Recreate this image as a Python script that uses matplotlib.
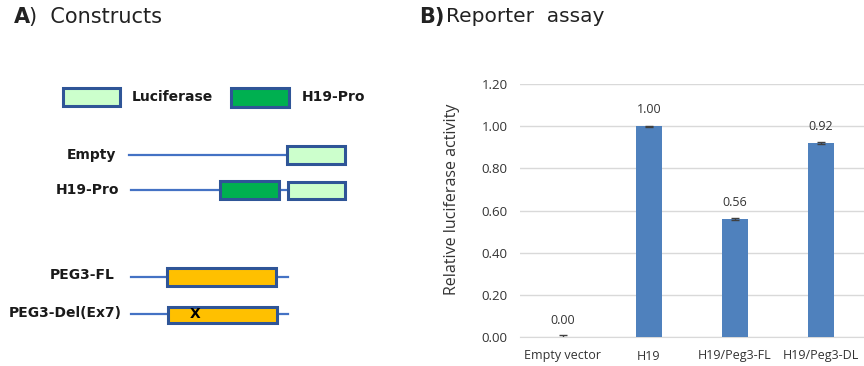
import matplotlib.pyplot as plt
from matplotlib.patches import Rectangle

# reporter assay data
groups = ['Empty vector', 'H19', 'H19/Peg3-FL', 'H19/Peg3-DL']
activity = [0.00, 1.00, 0.56, 0.92]
errors = [0.008, 0.003, 0.003, 0.003]
yticks = [0.0, 0.2, 0.4, 0.6, 0.8, 1.0, 1.2]

# construct diagram labels
construct_names = ['Empty', 'H19-Pro', 'PEG3-FL', 'PEG3-Del(Ex7)']
legend_names = ['Luciferase', 'H19-Pro']

luc_col = '#CCFFCC'
pro_col = '#00B050'
peg_col = '#FFC000'
edge_col = '#2F5597'
line_col = '#4472C4'
bar_col = '#4F81BD'

fig = plt.figure(figsize=(8.64, 3.66), dpi=100)

# ---- panel A, drawn in pixel coordinates ----
axa = fig.add_axes([0, 0, 1, 1])
axa.set_xlim(0, 864)
axa.set_ylim(366, 0)
axa.axis('off')

def box(x0, x1, y0, y1, fc):
    axa.add_patch(Rectangle((x0, y0), x1 - x0, y1 - y0, facecolor=fc,
                            edgecolor=edge_col, linewidth=2.2, zorder=3))

def line(x0, x1, y):
    axa.plot([x0, x1], [y, y], color=line_col, lw=1.6, zorder=2)

bold = dict(fontsize=10, fontweight='bold', color='#1a1a1a', va='center')

axa.text(14, 17, 'A', fontsize=15, fontweight='bold', va='center', color='#222222')
axa.text(29, 17, ')  Constructs', fontsize=15, va='center', color='#222222')
axa.text(419, 17, 'B)', fontsize=15, fontweight='bold', va='center', color='#222222')
axa.text(446, 17, 'Reporter  assay', fontsize=14.5, va='center', color='#222222')

# legend
box(63, 120, 88, 106, luc_col)
axa.text(132, 97, legend_names[0], ha='left', **bold)
box(231, 289, 88, 107, pro_col)
axa.text(302, 97, legend_names[1], ha='left', **bold)

# Empty
axa.text(116, 155, construct_names[0], ha='right', **bold)
line(129, 287, 155)
box(287, 345, 146, 164, luc_col)

# H19-Pro
axa.text(119, 190, construct_names[1], ha='right', **bold)
line(131, 288, 190)
box(220, 279, 181, 199, pro_col)
box(288, 345, 182, 199, luc_col)

# PEG3-FL
axa.text(115, 275, construct_names[2], ha='right', **bold)
line(131, 288, 277)
box(167, 276, 268, 286, peg_col)

# PEG3-Del(Ex7)
axa.text(122, 313, construct_names[3], ha='right', **bold)
line(131, 288, 314)
box(168, 277, 307, 323, peg_col)
axa.text(195, 314, 'X', ha='center', va='center', fontsize=10,
         fontweight='bold', color='black', zorder=4)

# ---- panel B ----
ax = fig.add_axes([520 / 864, 1 - 337 / 366, 344 / 864, 253 / 366])
x = range(len(groups))
ax.bar(x, activity, width=0.3, color=bar_col, zorder=3,
       yerr=errors, capsize=3, error_kw=dict(ecolor='#404040', elinewidth=1, capthick=1))
for xi, v in zip(x, activity):
    ax.annotate(f'{v:.2f}', (xi, v), xytext=(0, 7), textcoords='offset points',
                ha='center', va='bottom', fontsize=9, color='#333333', family='Open Sans')

ax.set_xlim(-0.5, 3.5)
ax.set_ylim(0, 1.2)
ax.set_yticks(yticks)
ax.set_yticklabels([f'{t:.2f}' for t in yticks], family='Open Sans', fontsize=9.5)
ax.set_xticks(list(x))
ax.set_xticklabels(groups, family='Open Sans', fontsize=9)
ax.tick_params(axis='both', length=0, colors='#333333')
ax.tick_params(axis='y', pad=9)
ax.tick_params(axis='x', pad=9)
ax.grid(axis='y', color='#D9D9D9', lw=1, zorder=0)
for s in ['left', 'right', 'top']:
    ax.spines[s].set_visible(False)
ax.spines['bottom'].set_color('#D9D9D9')
ax.set_ylabel('Relative luciferase activity', fontsize=11.5, family='Open Sans',
              color='#333333')
ax.yaxis.set_label_coords(-0.175, 0.545)

fig.savefig('out.png', dpi=100)
